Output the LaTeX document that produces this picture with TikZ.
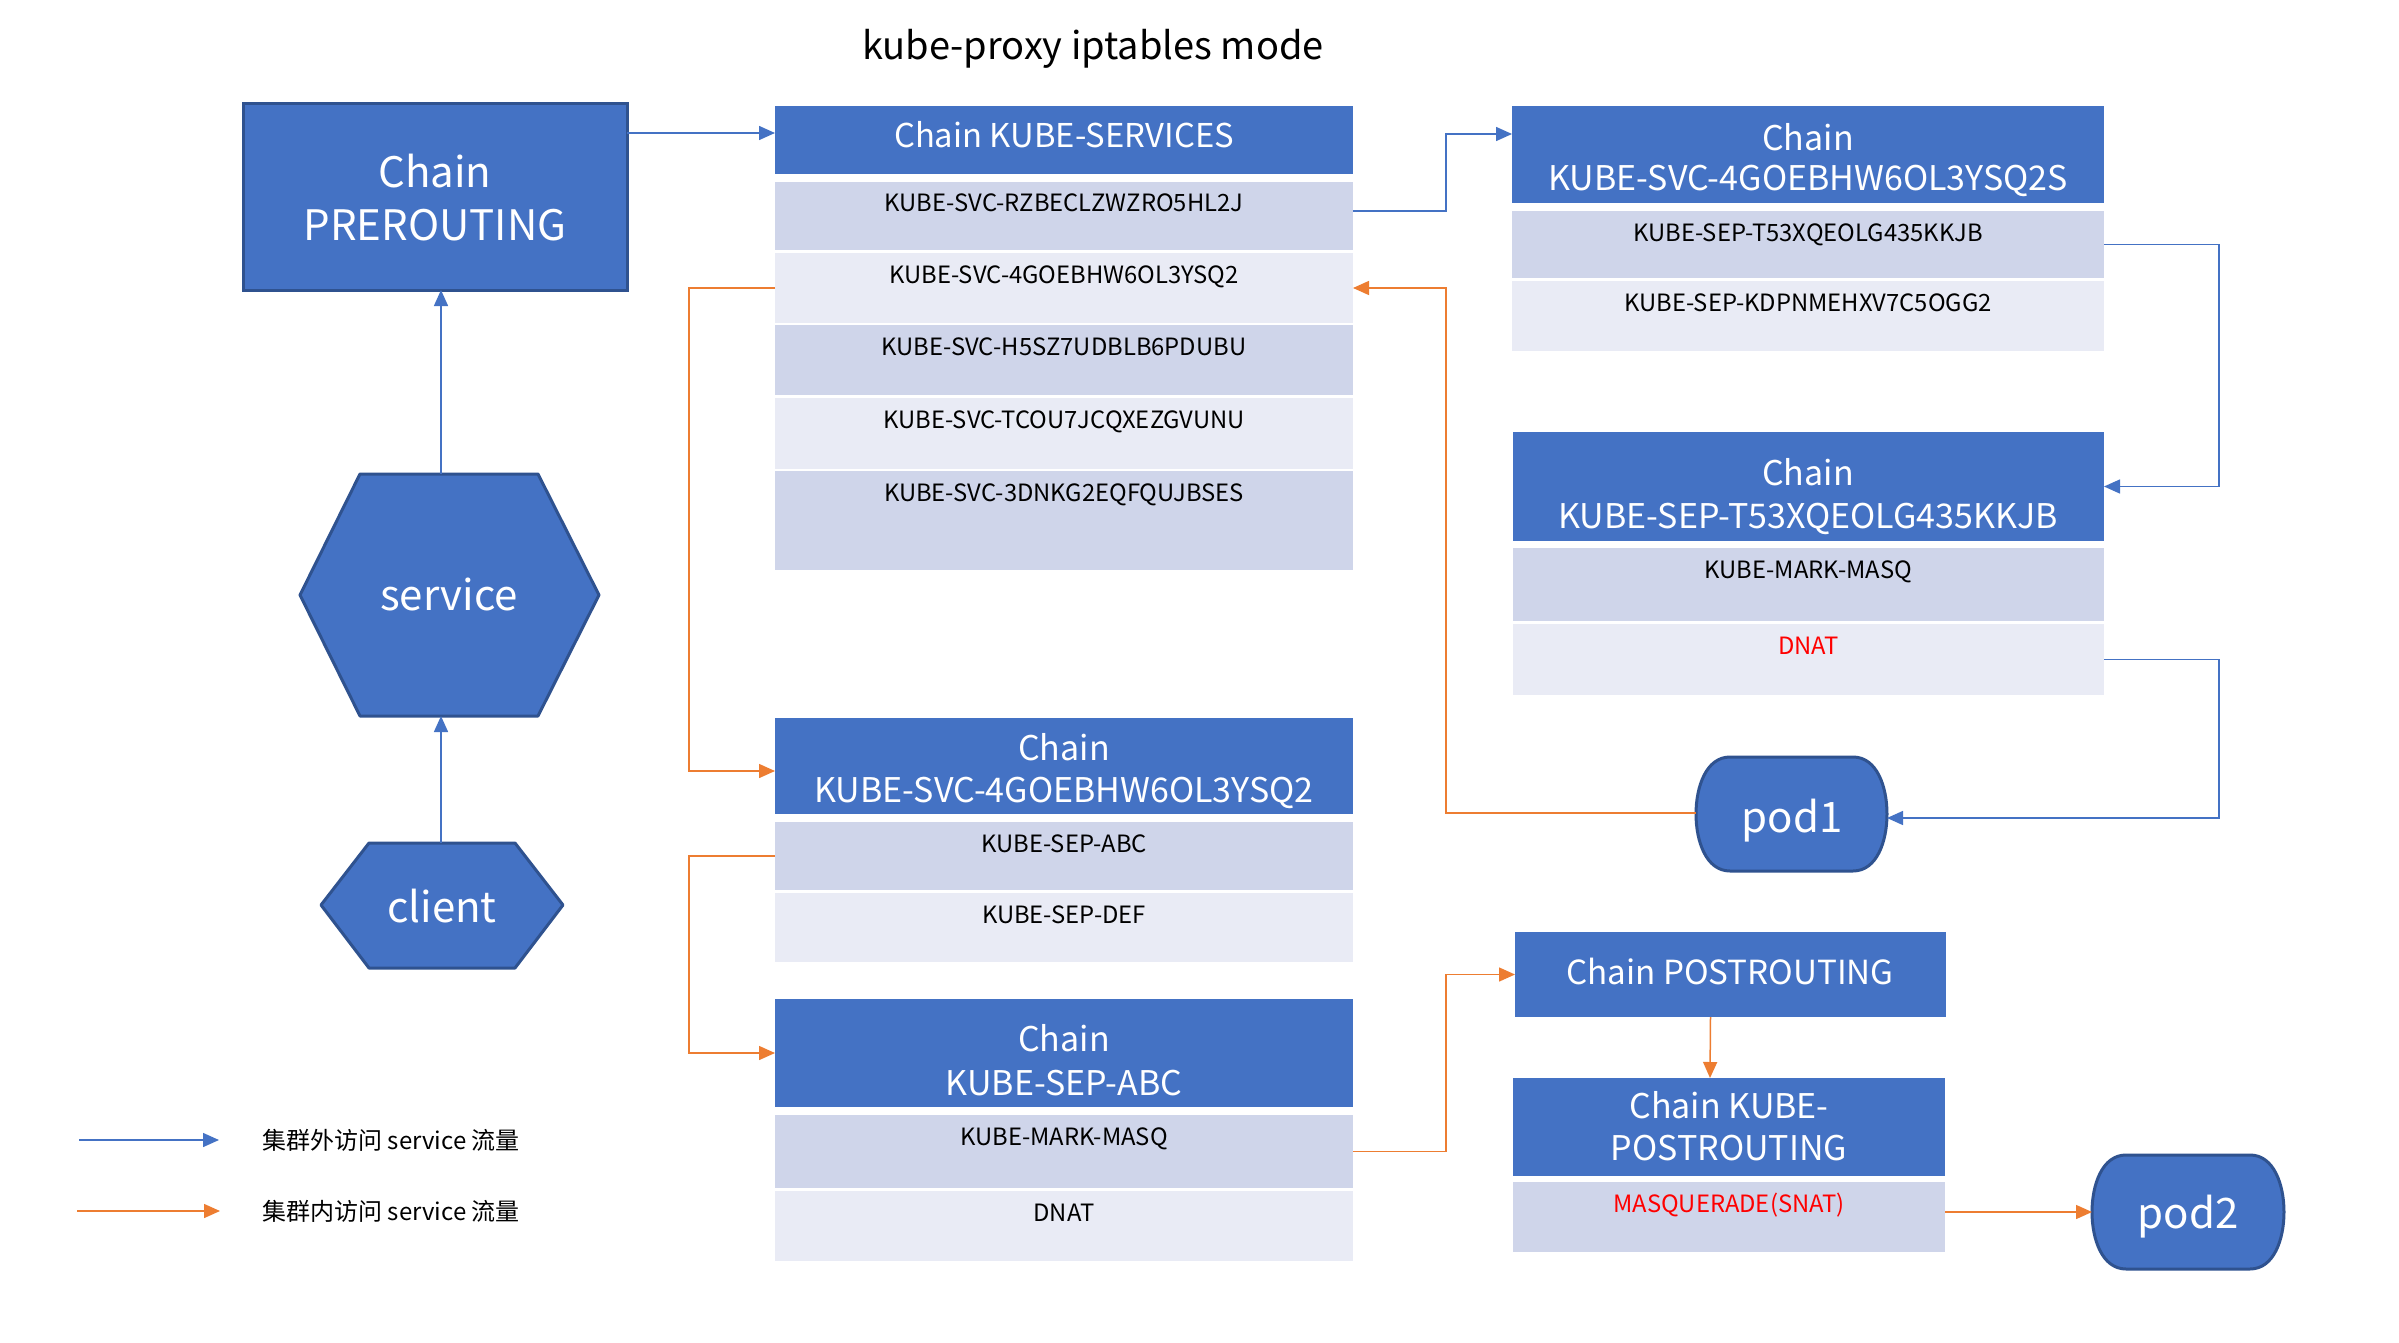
\documentclass[tikz,border=0pt]{standalone}
\usepackage{fontspec}
\setmainfont{Noto Sans CJK SC}
\usetikzlibrary{arrows.meta,calc,fit}
\definecolor{hblue}{HTML}{4472C4}
\definecolor{hdark}{HTML}{2F528F}
\definecolor{rdark}{HTML}{CFD5EA}
\definecolor{rlight}{HTML}{E9EBF5}
\definecolor{oline}{HTML}{ED7D31}
\definecolor{redtxt}{HTML}{FF0000}
\tikzset{
  box/.style={inner sep=0pt, outer sep=0pt, draw=none},
  hdr/.style={box, fill=hblue},
  rowd/.style={box, fill=rdark},
  rowl/.style={box, fill=rlight},
  rtxt/.style={font=\fontsize{11.9}{14}\selectfont, text=black, anchor=base, inner sep=0pt},
  htxt/.style={font=\fontsize{17}{21}\selectfont, text=white, anchor=base, inner sep=0pt},
  bigtxt/.style={font=\fontsize{21}{25}\selectfont, text=white, anchor=base, inner sep=0pt},
  shapesty/.style={fill=hblue, draw=hdark, line width=1.5pt, line join=round},
  barrow/.style={draw=hblue, line width=0.75pt, -{Triangle[length=8pt,width=7pt]}},
  oarrow/.style={draw=oline, line width=0.75pt, -{Triangle[length=8pt,width=7pt]}},
  legtxt/.style={anchor=west, inner sep=0pt, font=\fontsize{12}{14}\selectfont},
}
\newcommand\rowbox[7]{%
  \node[#2, fit={(#3,#4)(#5,#6)}] (#1) {};
  \node[rtxt] (#1t) at ({(#3+#5)/2},{#4+30}) {#7};}
\newcommand\podshape[4]{%
  \filldraw[shapesty] ({#1+34},#2) -- ({#3-34},#2)
    .. controls ({#3-10},#2) and (#3,{#2+30}) .. (#3,{(#2+#4)/2})
    .. controls (#3,{#4-30}) and ({#3-10},#4) .. ({#3-34},#4)
    -- ({#1+34},#4)
    .. controls ({#1+10},#4) and (#1,{#4-30}) .. (#1,{(#2+#4)/2})
    .. controls (#1,{#2+30}) and ({#1+10},#2) .. ({#1+34},#2) -- cycle;}
\begin{document}
\begin{tikzpicture}[x=0.5pt,y=-0.5pt]
\useasboundingbox (0,0) rectangle (2399,1343);
\fill[white] (0,0) rectangle (2399,1343);

% title
\node[font=\fontsize{19}{23}\selectfont, anchor=base, inner sep=0pt] (title) at (1093,60) {kube-proxy iptables mode};

% PREROUTING
\node[box, fit={(243,104)(627,290)}, fill=hblue, draw=hdark, line width=1.5pt] (pre) {};
\node[bigtxt] (pret1) at (435,187) {Chain};
\node[bigtxt] (pret2) at (435,240) {PREROUTING};

% service hexagon
\filldraw[shapesty] (360,474) -- (538,474) -- (599,595) -- (538,716) -- (360,716) -- (300,595) -- cycle;
\node[box, fit={(300,474)(599,716)}] (service) {};
\node[bigtxt] (servicet) at (449,610) {service};

% client hexagon
\filldraw[shapesty] (369,843) -- (515,843) -- (563,905) -- (515,968) -- (369,968) -- (321,905) -- cycle;
\node[box, fit={(321,843)(563,968)}] (client) {};
\node[bigtxt] (clientt) at (442,922) {client};

\coordinate (vx) at (441,0);

% KUBE-SERVICES
\node[hdr, fit={(775,106)(1353,174)}] (svcs) {};
\node[htxt, font=\fontsize{16.4}{20}\selectfont] (svcst) at (1064,148) {Chain KUBE-SERVICES};
\rowbox{svr1}{rowd}{775}{182}{1353}{250}{KUBE-SVC-RZBECLZWZRO5HL2J}
\rowbox{svr2}{rowl}{775}{253}{1353}{323}{KUBE-SVC-4GOEBHW6OL3YSQ2}
\rowbox{svr3}{rowd}{775}{325}{1353}{395}{KUBE-SVC-H5SZ7UDBLB6PDUBU}
\rowbox{svr4}{rowl}{775}{398}{1353}{469}{KUBE-SVC-TCOU7JCQXEZGVUNU}
\rowbox{svr5}{rowd}{775}{471}{1353}{570}{KUBE-SVC-3DNKG2EQFQUJBSES}

% KUBE-SVC-...2S
\node[hdr, fit={(1512,106)(2104,203)}] (s2s) {};
\node[htxt] (s2st1) at (1808,150) {Chain};
\node[htxt] (s2st2) at (1808,191) {KUBE-SVC-4GOEBHW6OL3YSQ2S};
\rowbox{s2r1}{rowd}{1512}{211}{2104}{278}{KUBE-SEP-T53XQEOLG435KKJB}
\rowbox{s2r2}{rowl}{1512}{281}{2104}{351}{KUBE-SEP-KDPNMEHXV7C5OGG2}

% KUBE-SEP-T53
\node[hdr, fit={(1513,432)(2104,541)}] (t53) {};
\node[htxt] (t53t1) at (1808,485) {Chain};
\node[htxt] (t53t2) at (1808,528) {KUBE-SEP-T53XQEOLG435KKJB};
\rowbox{t53r1}{rowd}{1513}{548}{2104}{621}{KUBE-MARK-MASQ}
\rowbox{t53r2}{rowl}{1513}{624}{2104}{695}{\textcolor{redtxt}{DNAT}}

% pod1
\podshape{1696}{757}{1887}{871}
\node[box, fit={(1696,757)(1887,871)}] (pod1) {};
\node[bigtxt] (pod1t) at (1792,832) {pod1};

% KUBE-SVC-...Q2 (middle)
\node[hdr, fit={(775,718)(1353,814)}] (g) {};
\node[htxt] (gt1) at (1064,760) {Chain};
\node[htxt] (gt2) at (1064,802) {KUBE-SVC-4GOEBHW6OL3YSQ2};
\rowbox{gr1}{rowd}{775}{822}{1353}{890}{KUBE-SEP-ABC}
\rowbox{gr2}{rowl}{775}{893}{1353}{962}{KUBE-SEP-DEF}

% KUBE-SEP-ABC
\node[hdr, fit={(775,999)(1353,1107)}] (abc) {};
\node[htxt] (abct1) at (1064,1051) {Chain};
\node[htxt] (abct2) at (1064,1095) {KUBE-SEP-ABC};
\rowbox{abcr1}{rowd}{775}{1115}{1353}{1188}{KUBE-MARK-MASQ}
\rowbox{abcr2}{rowl}{775}{1191}{1353}{1261}{DNAT}

% POSTROUTING
\node[hdr, fit={(1515,932)(1946,1017)}] (post) {};
\node[htxt, font=\fontsize{16.6}{20}\selectfont] (postt) at (1730,984) {Chain POSTROUTING};
\node[hdr, fit={(1513,1078)(1945,1176)}] (kpost) {};
\node[htxt] (kpostt1) at (1729,1118) {Chain KUBE-};
\node[htxt] (kpostt2) at (1729,1160) {POSTROUTING};
\rowbox{kpr1}{rowd}{1513}{1182}{1945}{1252}{\textcolor{redtxt}{MASQUERADE(SNAT)}}

% pod2
\podshape{2092}{1155}{2284}{1269}
\node[box, fit={(2092,1155)(2284,1269)}] (pod2) {};
\node[bigtxt] (pod2t) at (2188,1228) {pod2};

% connectors (blue)
\draw[barrow] ($(pre.north east)+(0,29)$) -- ($(svcs.north west)+(0,27)$);
\draw[barrow] ($(svr1.east)+(0,-5)$) -- ++(93,0) |- ($(s2s.north west)+(0,28)$);
\draw[barrow] (s2r1.east) -- ++(115,0) |- (t53.east);
\draw[barrow] (t53r2.east) -- ++(115,0) |- ($(pod1.east)+(0,4)$);
\draw[barrow] (vx |- service.north) -- (vx |- pre.south);
\draw[barrow] (vx |- client.north) -- (vx |- service.south);

% connectors (orange)
\draw[oarrow] ($(pod1.west)+(0,-1)$) -- ++(-250,0) |- (svr2.east);
\draw[oarrow] (svr2.west) -- ++(-86,0) |- ($(g.west)+(0,5)$);
\draw[oarrow] (gr1.west) -- ++(-86,0) |- (abc.west);
\draw[oarrow] (abcr1.east) -- ++(93,0) |- (post.west);
\draw[oarrow] ($(post.south)+(-20,0)$) -- ($(kpost.north)+(-19,0)$);
\draw[oarrow] ($(kpr1.east)+(0,-5)$) -- ($(kpr1.east -| pod2.west)+(0,-5)$);

% legend
\coordinate (l1a) at (79,1140);
\coordinate (l1b) at (219,1140);
\coordinate (l2a) at (77,1211);
\coordinate (l2b) at (220,1211);
\draw[barrow] (l1a) -- (l1b);
\draw[oarrow] (l2a) -- (l2b);
\node[legtxt] (l1t) at (262,1140) {集群外访问 service 流量};
\node[legtxt] (l2t) at (262,1211) {集群内访问 service 流量};
\end{tikzpicture}
\end{document}
